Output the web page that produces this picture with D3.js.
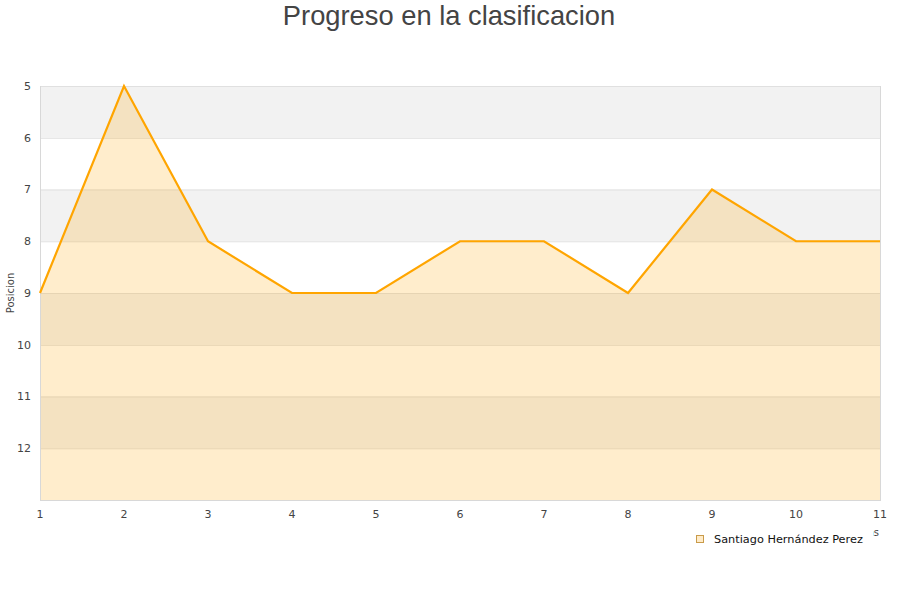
<!DOCTYPE html>
<html><head><meta charset="utf-8">
<script src="https://cdn.jsdelivr.net/npm/d3@7"></script>
<style>body{margin:0;background:#fff}svg{display:block}</style>
</head><body>
<script>
const jornadas = [1,2,3,4,5,6,7,8,9,10,11];
const posiciones = [9,5,8,9,9,8,8,9,7,8,8];
const yTicks = [5,6,7,8,9,10,11,12];
const seriesName = "Santiago Hernández Perez";
const title = "Progreso en la clasificacion";
const xTitle = "Jornadas";
const yTitle = "Posicion";

const W=900,H=600, L=40,R=880,T=86,B=500;
const svg=d3.select("body").append("svg").attr("width",W).attr("height",H);
const x=d3.scaleLinear().domain([1,11]).range([L,R]);
const y=d3.scaleLinear().domain([5,13]).range([T,B]);

const bands=d3.range(5,13);
svg.selectAll("rect.band").data(bands).enter().append("rect")
 .attr("x",L).attr("width",R-L).attr("y",d=>y(d)).attr("height",d=>y(d+1)-y(d))
 .attr("fill",d=>(d%2===1)?"#f2f2f2":"#ffffff");
svg.selectAll("line.grid").data(d3.range(5,14)).enter().append("line")
 .attr("x1",L).attr("x2",R).attr("y1",d=>y(d)+0.5).attr("y2",d=>y(d)+0.5)
 .attr("stroke","#e0e0e0").attr("stroke-width",1);

const data=jornadas.map((j,i)=>({j,p:posiciones[i]}));
svg.append("path").datum(data)
 .attr("d",d3.area().x(d=>x(d.j)).y0(y(13)).y1(d=>y(d.p)))
 .attr("fill","#ffa500").attr("fill-opacity",0.2);
svg.append("line").attr("x1",L+0.5).attr("x2",L+0.5).attr("y1",T).attr("y2",B).attr("stroke","#d8d8d8");
svg.append("line").attr("x1",R+0.5).attr("x2",R+0.5).attr("y1",T).attr("y2",B).attr("stroke","#d8d8d8");
svg.append("line").attr("x1",L).attr("x2",R+1).attr("y1",B+0.5).attr("y2",B+0.5).attr("stroke","#d8d8d8");

svg.append("path").datum(data)
 .attr("d",d3.line().x(d=>x(d.j)).y(d=>y(d.p)))
 .attr("fill","none").attr("stroke","#ffa500").attr("stroke-width",2.2);

svg.selectAll("text.yt").data(yTicks).enter().append("text")
 .attr("x",31).attr("y",d=>y(d)).attr("dy","0.35em").attr("text-anchor","end")
 .attr("font-family","DejaVu Sans").attr("font-size",11).attr("fill","#444").text(d=>d);
svg.selectAll("text.xt").data(jornadas).enter().append("text")
 .attr("x",d=>x(d)).attr("y",518).attr("text-anchor","middle")
 .attr("font-family","DejaVu Sans").attr("font-size",11).attr("fill","#444").text(d=>d);

svg.append("text").attr("x",449).attr("y",25).attr("text-anchor","middle")
 .attr("font-family","Liberation Sans, Arial").attr("font-size",27.3).attr("fill","#444").text(title);
svg.append("text").attr("transform","translate(14,293) rotate(-90)").attr("text-anchor","middle")
 .attr("font-family","DejaVu Sans").attr("font-size",10).attr("fill","#444").text(yTitle);
svg.append("text").attr("x",879).attr("y",536).attr("text-anchor","end")
 .attr("font-family","DejaVu Sans").attr("font-size",10).attr("fill","#444").text(xTitle);

const lg=svg.append("g");
lg.append("rect").attr("x",688).attr("y",528).attr("width",185).attr("height",25).attr("fill","#fff");
lg.append("rect").attr("x",696.5).attr("y",535.5).attr("width",7).attr("height",7)
 .attr("fill","#ffebc8").attr("stroke","#c99b4a").attr("stroke-width",1);
lg.append("text").attr("x",714).attr("y",539).attr("dy","0.35em")
 .attr("font-family","DejaVu Sans").attr("font-size",11.3).attr("fill","#111").text(seriesName);
</script>
</body></html>
